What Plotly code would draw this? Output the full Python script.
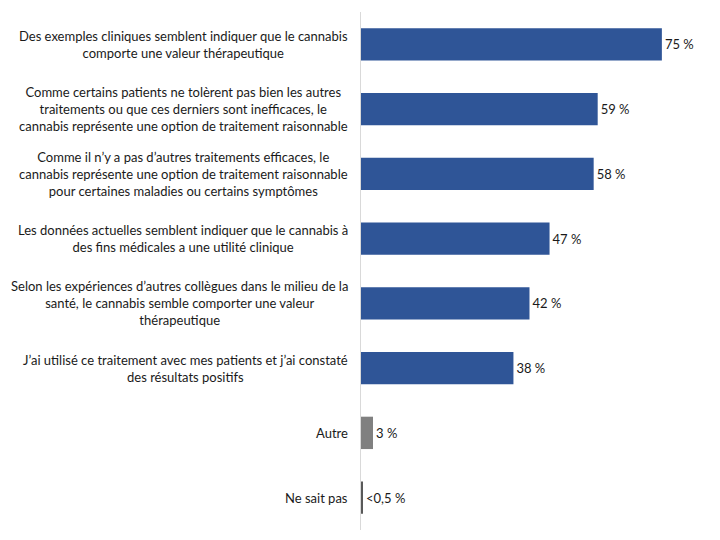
import plotly.graph_objects as go

categories = [
    "Des exemples cliniques semblent indiquer que le cannabis<br>comporte une valeur thérapeutique",
    "Comme certains patients ne tolèrent pas bien les autres<br>traitements ou que ces derniers sont inefficaces, le<br>cannabis représente une option de traitement raisonnable",
    "Comme il n’y a pas d’autres traitements efficaces, le<br>cannabis représente une option de traitement raisonnable<br>pour certaines maladies ou certains symptômes",
    "Les données actuelles semblent indiquer que le cannabis à<br>des fins médicales a une utilité clinique",
    "Selon les expériences d’autres collègues dans le milieu de la<br>santé, le cannabis semble comporter une valeur<br>thérapeutique",
    "J’ai utilisé ce traitement avec mes patients et j’ai constaté<br>des résultats positifs",
    "Autre",
    "Ne sait pas",
]
values = [75, 59, 58, 47, 42, 38, 3, 0.4]
value_labels = ["75 %", "59 %", "58 %", "47 %", "42 %", "38 %", "3 %", "<0,5 %"]
colors = ["#2F5597"] * 6 + ["#808080", "#595959"]

FONT = "Lato, sans-serif"
ypos = list(range(len(categories)))

fig = go.Figure(go.Bar(
    x=values, y=ypos, orientation="h",
    marker=dict(color=colors, line=dict(width=0)),
    text=value_labels, textposition="outside", cliponaxis=False,
    textfont=dict(family=FONT, size=13, color="#1a1a1a"),
    width=0.5,
))

for i, c in enumerate(categories):
    fig.add_annotation(x=0, y=i, xref="x", yref="y", text=c, showarrow=False,
                       xanchor="right", yanchor="middle", align="center", xshift=-11,
                       font=dict(family=FONT, size=13, color="#1a1a1a"))

fig.update_layout(
    width=720, height=540,
    margin=dict(l=353, r=22, t=4, b=18),
    plot_bgcolor="white", paper_bgcolor="white",
    showlegend=False,
    xaxis=dict(range=[0, 86], showgrid=False, zeroline=False, showticklabels=False,
               showline=False, fixedrange=True),
    yaxis=dict(range=[len(categories) - 0.5, -0.5], showgrid=False, zeroline=False,
               showticklabels=False, ticks="", showline=True, linecolor="#D9D9D9",
               linewidth=1),
)
fig.write_html("out.html")
